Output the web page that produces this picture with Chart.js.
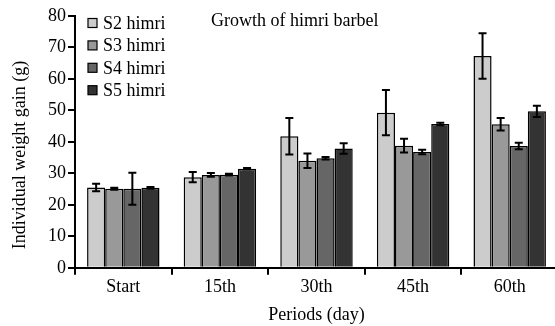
<!DOCTYPE html>
<html lang="en">
<head>
  <meta charset="UTF-8">
  <title>Growth of himri barbel</title>
  <script src="https://cdn.jsdelivr.net/npm/chart.js"></script>
  <style>
    html, body {
      margin: 0;
      padding: 0;
      background: #fff;
      overflow: hidden;
    }
    #wrap {
      width: 558px;
      height: 326px;
    }
  </style>
</head>
<body>
  <div id="wrap"><canvas id="growthChart"></canvas></div>

  <script>
    const periods = ['Start', '15th', '30th', '45th', '60th'];
    const seriesNames = ['S2 himri', 'S3 himri', 'S4 himri', 'S5 himri'];
    const s2 = [25.5, 28.8, 41.8, 49.3, 67.3];
    const s3 = [25.1, 29.5, 34.0, 38.8, 45.6];
    const s4 = [25.1, 29.6, 34.8, 36.8, 38.7];
    const s5 = [25.4, 31.5, 37.9, 45.7, 49.7];
    const s2Err = [1.2, 1.6, 5.8, 7.2, 7.2];
    const s3Err = [0.3, 0.6, 2.3, 2.2, 2.0];
    const s4Err = [5.1, 0.3, 0.4, 0.7, 1.0];
    const s5Err = [0.3, 0.2, 1.7, 0.4, 1.8];
    const fills = ['#cccccc', '#999999', '#666666', '#333333'];

    const values = [s2, s3, s4, s5];
    const errors = [s2Err, s3Err, s4Err, s5Err];
    const FONT = "'Liberation Serif', 'Times New Roman', serif";

    // whiskers on top of each bar
    const errorBars = {
      id: 'errorBars',
      afterDatasetsDraw(chart) {
        const ctx = chart.ctx;
        const y = chart.scales.y;
        ctx.save();
        ctx.strokeStyle = '#000';
        ctx.lineWidth = 2;
        chart.data.datasets.forEach((ds, i) => {
          const meta = chart.getDatasetMeta(i);
          meta.data.forEach((bar, j) => {
            const e = errors[i][j];
            const top = y.getPixelForValue(ds.data[j] + e);
            const bot = y.getPixelForValue(ds.data[j] - e);
            ctx.beginPath();
            ctx.moveTo(bar.x, top); ctx.lineTo(bar.x, bot);
            ctx.moveTo(bar.x - 4, top); ctx.lineTo(bar.x + 4, top);
            ctx.moveTo(bar.x - 4, bot); ctx.lineTo(bar.x + 4, bot);
            ctx.stroke();
          });
        });
        ctx.restore();
      }
    };

    // legend, caption and y title drawn by hand
    const innerText = {
      id: 'innerText',
      afterDraw(chart) {
        const ctx = chart.ctx;
        const a = chart.chartArea;
        ctx.save();
        ctx.font = '18px ' + FONT;
        ctx.fillStyle = '#000';
        ctx.textBaseline = 'middle';
        chart.data.datasets.forEach((ds, i) => {
          const cy = a.top + 7 + i * 22.4;
          ctx.fillStyle = ds.backgroundColor;
          ctx.fillRect(a.left + 13, cy - 4.5, 9, 9);
          ctx.strokeStyle = '#000';
          ctx.lineWidth = 1.2;
          ctx.strokeRect(a.left + 13, cy - 4.5, 9, 9);
          ctx.fillStyle = '#000';
          ctx.fillText(ds.label, a.left + 28, cy + 1);
        });
        ctx.fillText('Growth of himri barbel', a.left + 136, a.top + 5);

        ctx.translate(20, 155);
        ctx.rotate(-Math.PI / 2);
        ctx.textAlign = 'center';
        ctx.fillText('Individual weight gain (g)', 0, 0);
        ctx.restore();
      }
    };

    new Chart(document.getElementById('growthChart').getContext('2d'), {
      type: 'bar',
      data: {
        labels: periods,
        datasets: seriesNames.map((name, i) => ({
          label: name,
          data: values[i],
          backgroundColor: fills[i],
          borderColor: '#000',
          borderWidth: 1.5,
          categoryPercentage: 0.75,
          barPercentage: 1.0
        }))
      },
      options: {
        responsive: true,
        maintainAspectRatio: false,
        animation: false,
        layout: { padding: { top: 16, right: 0, left: 46, bottom: 0 } },
        plugins: {
          legend: { display: false },
          tooltip: { enabled: false }
        },
        scales: {
          x: {
            grid: { offset: true, drawOnChartArea: false, color: '#000', lineWidth: 2, tickLength: 7 },
            border: { color: '#000', width: 2 },
            ticks: { color: '#000', font: { family: FONT, size: 18 }, padding: 2 },
            title: { display: true, text: 'Periods (day)', color: '#000', font: { family: FONT, size: 18 }, padding: { top: 4, bottom: 0 } }
          },
          y: {
            min: 0,
            max: 80,
            ticks: { stepSize: 10, color: '#000', font: { family: FONT, size: 18 }, padding: 2 },
            grid: { drawOnChartArea: false, color: '#000', lineWidth: 2, tickLength: 7 },
            border: { color: '#000', width: 2 },
            title: { display: false }
          }
        }
      },
      plugins: [errorBars, innerText]
    });
  </script>
</body>
</html>
